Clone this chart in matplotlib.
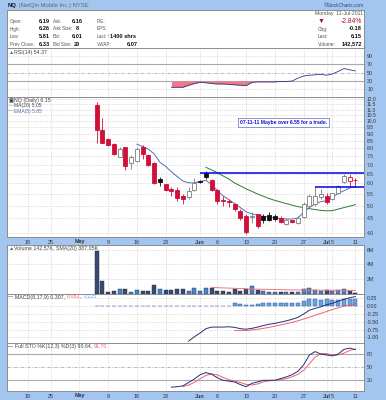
import numpy as np
import pandas as pd
import matplotlib
matplotlib.use("Agg")
import matplotlib.pyplot as plt
from matplotlib.ticker import NullLocator

plt.rcParams['font.family'] = ['Liberation Sans', 'DejaVu Sans']

nan = float('nan')

# ---------------- data ----------------
dates = ['2011-05-05', '2011-05-06', '2011-05-09', '2011-05-10', '2011-05-11', '2011-05-12', '2011-05-13',
         '2011-05-16', '2011-05-17', '2011-05-18', '2011-05-19', '2011-05-20',
         '2011-05-23', '2011-05-24', '2011-05-25', '2011-05-26', '2011-05-27',
         '2011-05-31', '2011-06-01', '2011-06-02', '2011-06-03',
         '2011-06-06', '2011-06-07', '2011-06-08', '2011-06-09', '2011-06-10',
         '2011-06-13', '2011-06-14', '2011-06-15', '2011-06-16', '2011-06-17',
         '2011-06-20', '2011-06-21', '2011-06-22', '2011-06-23', '2011-06-24',
         '2011-06-27', '2011-06-28', '2011-06-29', '2011-06-30', '2011-07-01',
         '2011-07-05', '2011-07-06', '2011-07-07', '2011-07-08', '2011-07-11']
opens = [11.42, 9.28, 8.64, 8.28, 7.45, 8.06, 7.07, 7.19, 8.06, 7.55, 7.08, 6.23,
         5.95, 5.74, 5.69, 5.42, 5.35, 5.69, 6.14, 6.56, 6.18, 5.69, 5.22, 5.20, 5.08,
         4.79, 4.59, 4.55, 4.66, 4.59, 4.63, 4.59, 4.52, 4.31, 4.43, 4.35, 4.55, 4.99,
         5.05, 5.35, 5.42, 5.28, 5.56, 6.06, 6.11, 6.19]
highs = [11.74, 10.27, 8.72, 8.34, 8.10, 8.10, 7.55, 8.10, 8.20, 7.66, 7.14, 6.35,
         5.99, 5.81, 5.81, 5.49, 5.81, 6.28, 6.18, 6.62, 6.23, 5.74, 5.39, 5.28, 5.12,
         4.88, 4.66, 4.73, 4.68, 4.66, 4.73, 4.66, 4.59, 4.48, 4.45, 4.59, 5.15, 5.49,
         5.81, 5.75, 5.56, 5.56, 5.93, 6.49, 6.49, 6.26]
lows = [8.34, 8.34, 8.13, 7.55, 7.45, 6.72, 6.78, 7.14, 7.35, 6.95, 5.97, 5.89,
        5.65, 5.42, 5.20, 5.05, 5.28, 5.65, 6.00, 6.23, 5.65, 5.08, 4.99, 4.95, 4.80,
        4.46, 3.97, 4.35, 4.17, 4.35, 4.41, 4.41, 4.35, 4.28, 4.33, 4.30, 4.52, 4.92,
        4.99, 5.30, 5.08, 5.25, 5.52, 6.03, 5.85, 5.81]
closes = [9.28, 8.38, 8.20, 7.61, 7.97, 6.95, 7.45, 7.99, 7.64, 7.00, 6.00, 6.06,
          5.68, 5.62, 5.32, 5.28, 5.65, 6.03, 6.05, 6.35, 5.69, 5.20, 5.18, 5.14, 4.88,
          4.52, 4.04, 4.60, 4.23, 4.43, 4.46, 4.47, 4.38, 4.43, 4.36, 4.52, 5.08, 5.42,
          5.43, 5.49, 5.14, 5.53, 5.89, 6.40, 6.33, 6.15]
ma20 = [nan] * 19 + [6.85, 6.70, 6.55, 6.38, 6.22, 6.02, 5.88, 5.74, 5.62, 5.50, 5.40,
                     5.30, 5.22, 5.15, 5.08, 5.02, 4.96, 4.92, 4.88, 4.84, 4.81, 4.79,
                     4.80, 4.86, 4.92, 4.98, 5.04]
ema = [nan] * 7 + [8.28, 8.12, 7.95, 7.65, 7.14, 6.90, 6.60, 6.35, 6.12, 6.03, 6.03, 6.10,
                   6.15, 5.95, 5.65, 5.42, 5.25, 5.08, 4.92, 4.75, 4.67, 4.62, 4.58, 4.55,
                   4.52, 4.50, 4.48, 4.48, 4.52, 4.73, 4.92, 5.08, 5.17, 5.20, 5.35, 5.53,
                   5.65, 5.78, 5.85]
volume_m = [5.80, 1.70, 0.25, 0.38, 0.60, 0.60, 0.25, 0.47, 0.33, 0.42, 1.25, 0.60,
            0.50, 0.47, 0.60, 0.70, 0.33, 0.80, 0.42, 0.75, 0.75, 0.38, 0.38, 0.25, 0.60,
            0.33, 0.60, 1.02, 0.47, 0.33, 0.25, 0.25, 0.25, 0.25, 0.25, 0.25, 0.70, 0.80,
            0.47, 0.42, 0.50, 0.33, 0.50, 0.70, 0.42, 0.14]
vol_sma = [nan] * 20 + [0.86, 0.82, 0.79, 0.76, 0.73, 0.70, 0.67, 0.64, 0.62, 0.60, 0.59,
                        0.57, 0.55, 0.53, 0.52, 0.51, 0.50, 0.50, 0.49, 0.49, 0.48, 0.48,
                        0.47, 0.47, 0.46, 0.45]
rsi = [nan] * 13 + [15, 15, 15, 20, 24, 27, 26, 24, 23, 23, 22, 21, 20, 19, 27, 28, 28, 28,
                    28, 29, 29, 30, 37, 42, 44, 45, 46, 44, 47, 53, 60, 57, 54.37]
macd = [nan] * 16 + [-1.12, -0.98, -0.86, -0.72, -0.67, -0.67, -0.67, -0.66, -0.68, -0.72,
                     -0.74, -0.71, -0.67, -0.62, -0.58, -0.55, -0.51, -0.47, -0.42, -0.36,
                     -0.25, -0.13, -0.07, -0.02, 0.05, 0.09, 0.16, 0.22, 0.27, 0.307]
signal = [nan] * 24 + [-0.78, -0.78, -0.78, -0.76, -0.74, -0.71, -0.68, -0.64, -0.60, -0.56,
                       -0.52, -0.47, -0.41, -0.35, -0.29, -0.23, -0.17, -0.11, -0.05, 0.00,
                       0.04, 0.082]
stoch_k = [nan] * 13 + [3, 4, 6, 14, 22, 32, 37, 33, 25, 19, 17, 15, 9, 4, 12, 15, 19, 19,
                        19, 23, 27, 32, 40, 55, 78, 86, 80, 78, 76, 80, 91, 94, 90.64]
level_lines = [6.55, 5.85]
level_starts = ['2011-06-01', '2011-06-29']

tick_dates = ['2011-04-18', '2011-04-25', '2011-05-02', '2011-05-09', '2011-05-16', '2011-05-23',
              '2011-06-01', '2011-06-06', '2011-06-13', '2011-06-20', '2011-06-27', '2011-07-01',
              '2011-07-05', '2011-07-11']
tick_labels = ['18', '25', 'May', '9', '16', '23', 'Jun', '6', '13', '20', '27', 'Jul', '5', '11']
month_labels = ['May', 'Jun', 'Jul']

price_ticks = [4.0, 4.5, 5.0, 5.5, 6.0, 6.5, 7.0, 7.5, 8.0, 8.5, 9.0, 9.5, 10.0, 10.5, 11.0, 11.5, 12.0]
rsi_ticks = [10, 30, 50, 70, 90]
vol_ticks = [2, 4, 6]
macd_ticks = [-1.0, -0.75, -0.5, -0.25, 0.0, 0.25]
sto_ticks = [20, 50, 80]

# ---------------- trading calendar ----------------
holidays = ['2011-04-22', '2011-05-30', '2011-07-04']
calendar = [d.strftime('%Y-%m-%d') for d in pd.bdate_range('2011-04-13', '2011-07-11')
            if d.strftime('%Y-%m-%d') not in holidays]
pos = {d: i for i, d in enumerate(calendar)}
x = np.array([pos[d] for d in dates], dtype=float)
tick_x = [pos[d] for d in tick_dates]

opens, highs, lows, closes = map(np.array, (opens, highs, lows, closes))
volume_m = np.array(volume_m)
prev = np.r_[opens[0], closes[:-1]]
is_down = closes < prev
filled = closes < opens

# ---------------- figure ----------------
W, H = 386, 400
FRAME = '#a3c6f0'
fig = plt.figure(figsize=(W / 100, H / 100), dpi=100)
fig.patch.set_facecolor(FRAME)
renderer = fig.canvas.get_renderer()

def fx(px):
    return px / W

def fy(py):
    return 1 - py / H

XL, XR = -0.6, 61.5
PX0, PX1 = 7, 364
GRID = '#c2c2c2'
DOT = (0, (1, 1.6))
LBL = 3.8
TXT = '#444444'

def panel(y0, y1):
    ax = fig.add_axes([fx(PX0), fy(y1), fx(PX1) - fx(PX0), (y1 - y0) / H])
    ax.set_facecolor('white')
    for s in ax.spines.values():
        s.set_color('#8c8c8c')
        s.set_linewidth(0.7)
    ax.set_xlim(XL, XR)
    ax.set_xticks(tick_x)
    ax.tick_params(axis='x', length=0, labelbottom=False)
    ax.yaxis.tick_right()
    ax.tick_params(axis='y', length=0, labelsize=LBL, labelcolor='#333333', pad=2.2)
    for t in tick_x:
        ax.axvline(t, color=GRID, lw=0.5, ls=DOT, zorder=0)
    return ax

def hgrid(ax, levels):
    for lv in levels:
        ax.axhline(lv, color=GRID, lw=0.5, ls=DOT, zorder=0)

def ptext(xp, yp, s, size=LBL, color=TXT, weight='normal', ha='left', **kw):
    return fig.text(fx(xp), fy(yp), s, fontsize=size, color=color, fontweight=weight,
                    ha=ha, va='center', **kw)

def multi_text(xp, yp, parts, size=LBL):
    cur = xp
    for s, color, weight in parts:
        t = ptext(cur, yp, s, size=size, color=color, weight=weight)
        cur += t.get_window_extent(renderer=renderer).width

# ---------------- header ----------------
axh = fig.add_axes([fx(PX0), fy(48.3), fx(PX1) - fx(PX0), (48.3 - 10) / H])
axh.set_facecolor('white')
axh.set_xticks([]); axh.set_yticks([])
for s in axh.spines.values():
    s.set_color('#8c8c8c'); s.set_linewidth(0.7)

multi_text(8, 5.5, [('NQ', '#111111', 'bold'), (' (NetQin Mobile Inc.) NYSE', '#666666', 'normal')], size=4.2)
ptext(364, 5.5, '\u00a9StockCharts.com', size=3.4, color='#334477', ha='right')

HL = 3.3   # header label size
HV = 4.1   # header value size
rows_y = [21.5, 29, 36.5, 44]
col1 = ['Open:', 'High:', 'Low:', 'Prev Close:']
val1 = ['6.19', '6.26', '5.81', '6.33']
col2 = ['Ask:', 'Ask Size:', 'Bid:', 'Bid Size:']
val2 = ['6.16', '8', '6.01', '20']
col3 = ['P/E:', 'EPS:', 'Last:', 'VWAP:']
for yy, a, b, c, d, e in zip(rows_y, col1, val1, col2, val2, col3):
    ptext(10, yy, a, size=HL, color='#555555')
    ptext(44.5, yy, b, size=HV, color='#111111', weight='bold', ha='center')
    ptext(53, yy, c, size=HL, color='#555555')
    ptext(77, yy, d, size=HV, color='#111111', weight='bold', ha='center')
    ptext(97, yy, e, size=HL, color='#555555')
ptext(108, 36.5, '\u2191', size=4.4, color='#2a9a2a', weight='bold', ha='center')
ptext(110.5, 36.5, '1400 shrs', size=HV, color='#111111', weight='bold')
ptext(137.5, 44, '6.07', size=HV, color='#111111', weight='bold', ha='right')

ptext(363, 14, 'Monday  11-Jul-2011', size=3.7, color='#555555', ha='right')
ptext(321.5, 21.5, '\u25bc', size=5.0, color='#b0102c', ha='center')
ptext(362, 21.5, '-2.84%', size=4.9, color='#b0102c', ha='right')
ptext(318, 29, 'Chg:', size=3.5, color='#555555')
ptext(362, 29, '-0.18', size=HV, color='#111111', weight='bold', ha='right')
ptext(318, 36.5, 'Last:', size=3.5, color='#555555')
ptext(362, 36.5, '6.15', size=HV, color='#111111', weight='bold', ha='right')
ptext(318, 44, 'Volume:', size=3.5, color='#555555')
ptext(362, 44, '142,572', size=HV, color='#111111', weight='bold', ha='right')

# ---------------- RSI ----------------
ax_r = panel(48.3, 97)
ax_r.set_ylim(-8.3, 108.6)
ax_r.set_yticks(rsi_ticks)
ax_r.set_yticklabels([str(v) for v in rsi_ticks])
hgrid(ax_r, [10, 90])
for lv in (30, 70):
    ax_r.axhline(lv, color='#a8a8a8', lw=0.8, zorder=1)
ax_r.axhline(50, color='#b0b0b0', lw=0.6, ls=(0, (4, 1.5, 1, 1.5)), zorder=1)
rsi_a = np.array(rsi, dtype=float)
ax_r.fill_between(x, rsi_a, 30, where=rsi_a < 30, color='#f07a8c', interpolate=True, lw=0, zorder=2)
ax_r.plot(x, rsi_a, color='#2b3b85', lw=0.6, zorder=3)
multi_text(8.5, 52.5, [('\u25b2', '#3a6ab8', 'normal'), ('RSI(14) 54.37', TXT, 'normal')])

# ---------------- price ----------------
ax_p = panel(97, 237)
ax_p.set_yscale('log')
ax_p.set_ylim(3.865, 12.2)
ax_p.yaxis.set_minor_locator(NullLocator())
ax_p.set_yticks(price_ticks)
ax_p.set_yticklabels([f'{v:.1f}' for v in price_ticks])
ax_p.tick_params(axis='y', labelsize=3.6)
hgrid(ax_p, price_ticks)

RED = '#d0103a'
GRY = '#7c7c7c'
BLK = '#111111'
for i in range(len(x)):
    ec = RED if is_down[i] else (BLK if filled[i] else GRY)
    fc = ec if filled[i] else 'white'
    ax_p.vlines(x[i], lows[i], highs[i], color=ec, lw=0.6, zorder=3)
    lo, hi = min(opens[i], closes[i]), max(opens[i], closes[i])
    hi = max(hi, lo * 1.005)
    ax_p.bar(x[i], hi - lo, bottom=lo, width=0.72, color=fc, edgecolor=ec, lw=0.6, zorder=4)

ax_p.plot(x, ma20, color='#2e7a2e', lw=0.7, zorder=2)
ax_p.plot(x, ema, color='#5a6cb4', lw=0.7, zorder=2)
for lv, sd in zip(level_lines, level_starts):
    ax_p.hlines(lv, pos[sd], XR, color='#0000f0', lw=1.1, zorder=5)

ax_p.set_xticklabels(tick_labels)
ax_p.tick_params(axis='x', labelbottom=True, labelsize=3.9, labelcolor='#333333', pad=1.8)
for t in ax_p.get_xticklabels():
    if t.get_text() in month_labels:
        t.set_fontweight('bold')

multi_text(8.5, 100.5, [('\u25a3', '#222222', 'normal'), ('NQ (Daily) 6.15', TXT, 'normal')], size=3.8)
multi_text(8.5, 105.5, [('\u2014', '#8a8a8a', 'normal'), ('MA(20) 5.05', TXT, 'normal')], size=3.6)
multi_text(8.5, 111, [('\u2014', '#5a6cb4', 'normal'), ('EMA(5) 5.85', '#5a6cb4', 'normal')], size=3.6)

ptext(283.5, 122.5, '07-11-11 Maybe over 6.55 for a trade.', size=3.6, color='#1010d8',
      weight='bold', ha='center',
      bbox=dict(boxstyle='square,pad=0.45', facecolor='white', edgecolor='#7a86c8', linewidth=0.6))

# ---------------- volume ----------------
ax_v = panel(245, 293.7)
ax_v.set_ylim(0, 6.63)
ax_v.set_yticks(vol_ticks)
ax_v.set_yticklabels([f'{v}M' for v in vol_ticks])
hgrid(ax_v, vol_ticks)
vcol = ['#3c4a70' if d else '#4a86c6' for d in is_down]
ax_v.bar(x, volume_m, width=0.7, color=vcol, edgecolor='#1e2a4a', lw=0.3, zorder=3)
ax_v.plot(x, vol_sma, color='#f07878', lw=0.7, zorder=4)
multi_text(8.5, 248.5, [('\u25b2', '#3a6ab8', 'normal'),
                        ('Volume 142.57K, SMA(20) 387.05K', TXT, 'normal')])

# ---------------- MACD ----------------
ax_m = panel(293.7, 343)
ax_m.set_ylim(-1.18, 0.40)
ax_m.set_yticks(macd_ticks)
ax_m.set_yticklabels([f'{v:.2f}' for v in macd_ticks])
hgrid(ax_m, macd_ticks)
macd_a = np.array(macd, dtype=float)
sig_a = np.array(signal, dtype=float)
hist = macd_a - sig_a
ax_m.bar(x, np.nan_to_num(hist), width=0.7, color='#6aa2de', edgecolor='#2a5a9e', lw=0.35, zorder=2)
ax_m.plot(x, macd_a, color='#22307a', lw=0.7, zorder=3)
ax_m.plot(x, sig_a, color='#f06070', lw=0.7, zorder=3)
multi_text(8.5, 297, [('\u2014 ', '#22307a', 'normal'), ('MACD(8,17,9) 0.307, ', TXT, 'normal'),
                      ('0.082', '#f06070', 'normal'), (', ', TXT, 'normal'),
                      ('0.225', '#6aa2de', 'normal')])

# ---------------- Full STO ----------------
ax_s = panel(343, 391)
ax_s.set_ylim(-6, 106)
ax_s.set_yticks(sto_ticks)
ax_s.set_yticklabels([str(v) for v in sto_ticks])
for lv in (20, 80):
    ax_s.axhline(lv, color='#a8a8a8', lw=0.8, zorder=1)
ax_s.axhline(50, color='#b0b0b0', lw=0.6, ls=(0, (4, 1.5, 1, 1.5)), zorder=1)
k_a = pd.Series(stoch_k, dtype=float)
d_a = k_a.rolling(3).mean()
ax_s.plot(x, d_a, color='#f06070', lw=0.7, zorder=3)
ax_s.plot(x, k_a, color='#22307a', lw=0.7, zorder=4)
ax_s.set_xticklabels(tick_labels)
ax_s.tick_params(axis='x', labelbottom=True, labelsize=3.9, labelcolor='#333333', pad=1.8)
for t in ax_s.get_xticklabels():
    if t.get_text() in month_labels:
        t.set_fontweight('bold')
multi_text(8.5, 346.5, [('\u2014 ', '#22307a', 'normal'),
                        ('Full STO %K(12,3) %D(3) 90.64, ', TXT, 'normal'),
                        ('91.70', '#f06070', 'normal')])

fig.savefig('out.png', dpi=100, facecolor=FRAME)
